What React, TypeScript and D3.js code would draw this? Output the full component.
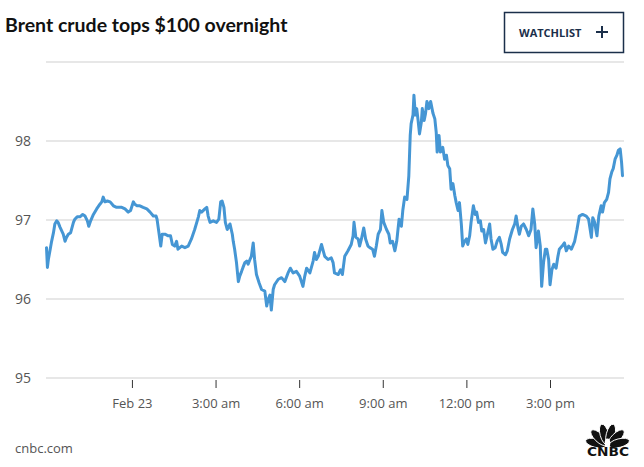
import React from "react";
import * as d3 from "d3";

const TITLE = "Brent crude tops $100 overnight";
const BUTTON_LABEL = "WATCHLIST";
const SOURCE = "cnbc.com";

// minutes relative to midnight, Feb 23 (negative = Feb 22 evening)
const minutes = [
  -185,-183,-181,-177,-174,-170,-167,-163,-160,-156,
  -149,-145,-142,-138,-133,-127,-124,-119,-113,-107,
  -102,-97,-94,-90,-84,-77,-70,-66,-63,-59,
  -54,-48,-41,-34,-23,-16,-9,-4,2,5,
  10,16,23,31,38,45,51,53,57,61,
  64,70,77,82,86,91,95,98,106,113,
  120,127,134,142,145,149,156,160,163,167,
  174,181,186,190,193,197,200,204,210,215,
  217,220,224,228,231,235,238,242,246,249,
  253,256,260,263,267,273,278,285,289,292,
  296,299,303,306,314,321,328,335,340,346,
  353,360,367,371,375,382,389,392,396,400,
  407,414,421,428,432,435,443,448,452,457,
  464,471,475,477,481,486,489,493,498,502,
  507,511,517,521,525,529,534,537,541,547,
  552,555,560,565,569,574,579,582,586,591,
  595,598,600,604,606,609,612,615,618,622,
  624,628,631,634,638,642,647,651,654,656,
  660,663,668,672,676,679,683,686,690,694,
  697,701,704,708,711,715,719,722,726,729,
  734,738,741,745,749,752,756,760,765,769,
  772,776,781,785,790,794,797,803,807,812,
  818,823,826,830,833,837,842,848,853,858,
  862,866,869,874,878,881,885,889,892,896,
  899,903,907,912,916,919,925,930,934,939,
  945,952,957,962,969,977,982,988,991,995,
  1000,1004,1009,1012,1016,1021,1025,1028,1032,1035,
  1039,1043,1046,1050,1053,1055,
];

const prices = [
  96.65,96.40,96.50,96.63,96.73,96.84,96.95,96.99,96.97,96.91,
  96.82,96.73,96.78,96.82,96.84,96.97,97.01,97.04,97.04,97.07,
  97.05,96.99,96.92,96.99,97.07,97.14,97.20,97.23,97.29,97.23,
  97.24,97.23,97.18,97.16,97.16,97.14,97.10,97.12,97.23,97.20,
  97.18,97.18,97.16,97.14,97.10,97.05,97.05,97.01,96.84,96.67,
  96.82,96.82,96.80,96.80,96.69,96.67,96.73,96.63,96.67,96.65,
  96.67,96.76,96.88,97.04,97.12,97.10,97.14,97.16,97.05,96.97,
  96.99,96.97,97.01,97.23,97.24,97.16,96.97,96.88,96.95,96.82,
  96.73,96.63,96.46,96.22,96.29,96.35,96.40,96.46,96.48,96.44,
  96.50,96.54,96.71,96.50,96.31,96.20,96.12,96.10,95.91,95.99,
  96.05,95.86,96.12,96.18,96.25,96.27,96.22,96.33,96.39,96.33,
  96.35,96.29,96.16,96.29,96.39,96.33,96.48,96.59,96.50,96.54,
  96.69,96.54,96.50,96.52,96.46,96.33,96.31,96.37,96.31,96.54,
  96.61,96.69,96.80,96.97,96.78,96.76,96.67,96.76,96.90,96.76,
  96.67,96.65,96.63,96.54,96.67,96.82,96.88,97.12,96.97,96.88,
  96.82,96.71,96.73,96.61,96.73,97.01,96.92,97.12,97.29,97.26,
  97.56,98.07,98.22,98.33,98.58,98.33,98.41,98.26,98.09,98.24,
  98.41,98.26,98.35,98.50,98.41,98.50,98.35,98.28,98.11,97.86,
  98.07,97.86,97.92,97.77,97.82,97.69,97.65,97.39,97.46,97.31,
  97.22,97.12,97.22,96.95,96.67,96.73,96.76,96.69,96.80,96.97,
  97.18,97.07,97.10,96.97,96.99,96.86,96.88,96.71,96.84,96.95,
  96.76,96.63,96.65,96.73,96.78,96.69,96.59,96.56,96.61,96.76,
  96.88,96.95,97.05,96.90,96.82,96.92,96.95,96.88,96.80,96.88,
  97.14,96.95,96.65,96.86,96.67,96.16,96.46,96.63,96.63,96.50,
  96.18,96.37,96.44,96.39,96.54,96.63,96.67,96.71,96.61,96.67,
  96.63,96.73,96.88,97.05,97.07,97.05,97.01,96.78,97.03,96.97,
  96.80,97.05,97.18,97.10,97.22,97.26,97.35,97.52,97.61,97.65,
  97.77,97.82,97.88,97.90,97.73,97.56,
];

const yTicks = [95, 96, 97, 98, 99];
const yLabelTicks = [95, 96, 97, 98];
const xTickHours = [0, 3, 6, 9, 12, 15];

const BASE = new Date(2022, 1, 23, 0, 0, 0);
const toDate = (m: number) => new Date(BASE.getTime() + m * 60000);

const W = 644;
const H = 467;

const fmtTick = (d: Date) =>
  d.getHours() === 0 && d.getMinutes() === 0
    ? d3.timeFormat("%b %-d")(d)
    : d3.timeFormat("%-I:%M ")(d) + (d.getHours() < 12 ? "am" : "pm");

export default function App() {
  const data = minutes.map((m, i) => ({ t: toDate(m), v: prices[i] }));
  const x = d3
    .scaleTime()
    .domain([toDate(minutes[0]), toDate(minutes[minutes.length - 1])])
    .range([46.5, 622.5]);
  const y = d3.scaleLinear().domain([95, 99]).range([378, 62]);
  const line = d3
    .line<{ t: Date; v: number }>()
    .x((d) => x(d.t))
    .y((d) => y(d.v));

  const xTicks = xTickHours.map((h) => toDate(h * 60));
  const gx1 = 46;
  const gx2 = 624;
  const axisFont = "'Open Sans', 'Noto Sans', sans-serif";
  const navy = "#1b2f4a";

  const petalAngles = [-76, -46, -15, 15, 46, 76];
  const logoCx = 607.5;
  const logoCy = 446;

  return (
    <svg
      width={W}
      height={H}
      viewBox={`0 0 ${W} ${H}`}
      style={{ position: "absolute", left: 0, top: 0, background: "#fff", display: "block" }}
    >
      <rect x={0} y={0} width={W} height={H} fill="#fff" />
      <text
        x={5}
        y={32}
        fontFamily="Lato, 'Open Sans', sans-serif"
        fontWeight={700}
        fontSize={19.5}
        fill="#111"
      >
        {TITLE}
      </text>

      <rect x={504.5} y={12.5} width={119} height={40} fill="#fff" stroke={navy} strokeWidth={1.5} />
      <text
        x={519}
        y={36.5}
        fontFamily="'Open Sans', sans-serif"
        fontWeight={700}
        fontSize={11}
        fill={navy}
      >
        {BUTTON_LABEL}
      </text>
      <line x1={596} x2={608} y1={32} y2={32} stroke={navy} strokeWidth={2} />
      <line x1={602} x2={602} y1={26} y2={38} stroke={navy} strokeWidth={2} />

      {yTicks.map((t) => (
        <line key={"g" + t} x1={gx1} x2={gx2} y1={y(t)} y2={y(t)} stroke="#cfcfcf" strokeWidth={1} />
      ))}
      {yLabelTicks.map((t) => (
        <text
          key={"yl" + t}
          x={15}
          y={y(t)}
          dy="0.35em"
          fontFamily={axisFont}
          fontSize={14}
          fill="#555"
        >
          {t}
        </text>
      ))}

      {xTicks.map((d, i) => (
        <g key={"xt" + i} transform={`translate(${x(d)},0)`}>
          <line y1={380} y2={388} stroke="#333" strokeWidth={1} />
          <text y={408} textAnchor="middle" fontFamily={axisFont} fontSize={13} fill="#555">
            {fmtTick(d)}
          </text>
        </g>
      ))}

      <path
        d={line(data) || ""}
        fill="none"
        stroke="#4596d4"
        strokeWidth={3}
        strokeLinejoin="round"
        strokeLinecap="round"
      />

      <text x={15} y={453} fontFamily={axisFont} fontSize={13} fill="#555">
        {SOURCE}
      </text>

      <g>
        {petalAngles.map((a, i) => (
          <ellipse
            key={"p" + i}
            cx={logoCx}
            cy={logoCy - 12}
            rx={4.3}
            ry={10.5}
            fill="#111"
            stroke="#fff"
            strokeWidth={0.9}
            transform={`rotate(${a} ${logoCx} ${logoCy})`}
          />
        ))}
        <ellipse cx={logoCx} cy={logoCy - 3} rx={2.8} ry={4.5} fill="#fff" />
        <text
          x={logoCx + 0.5}
          y={456}
          textAnchor="middle"
          fontFamily="'DejaVu Sans', sans-serif"
          fontWeight={700}
          fontSize={12}
          textLength={42}
          lengthAdjust="spacingAndGlyphs"
          fill="#111"
        >
          CNBC
        </text>
      </g>
    </svg>
  );
}
